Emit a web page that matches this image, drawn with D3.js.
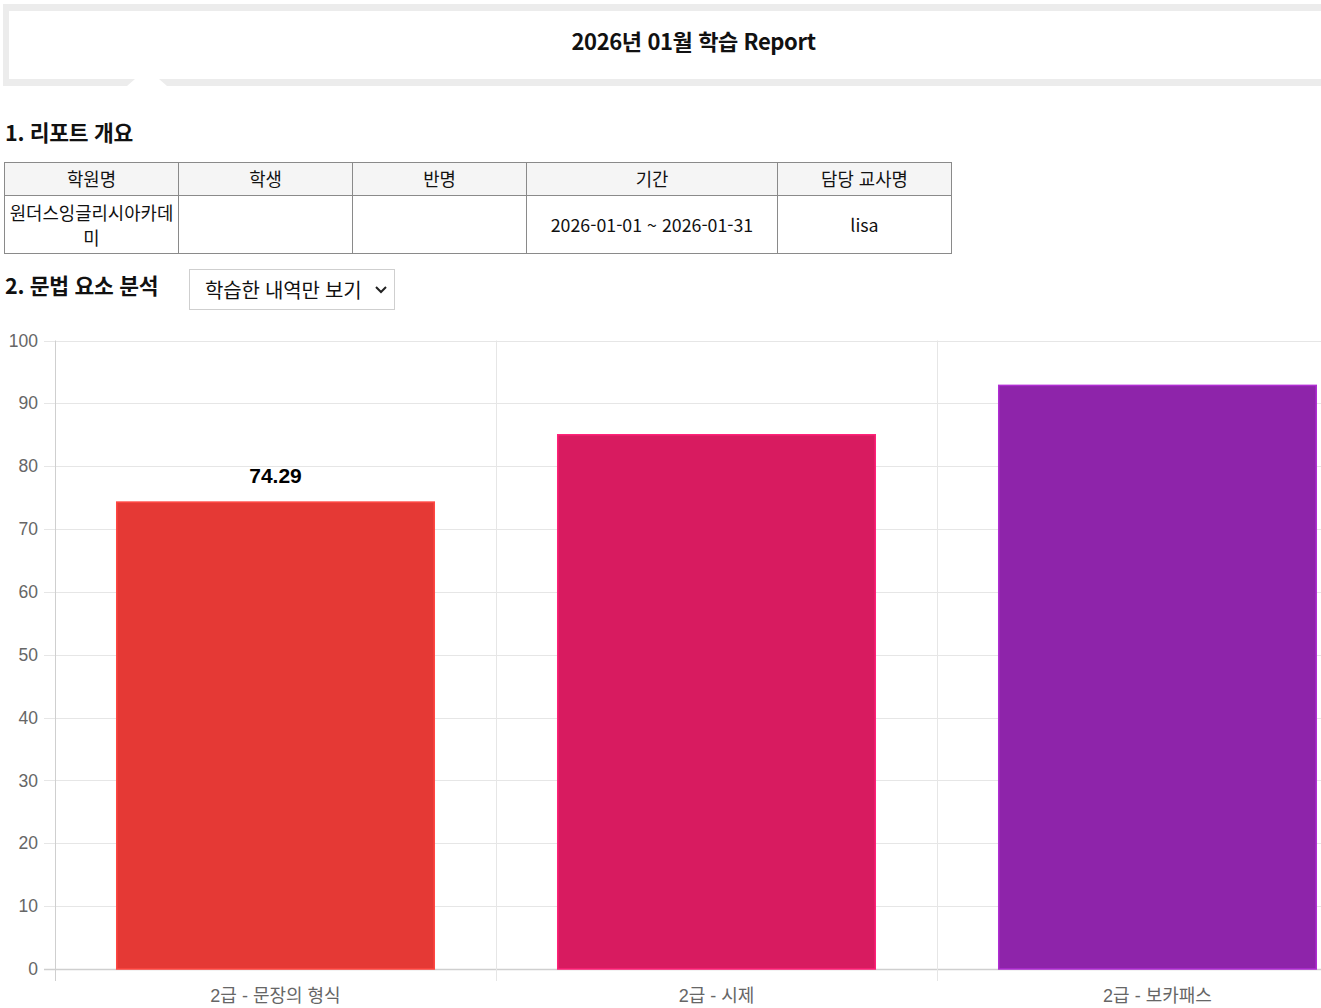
<!DOCTYPE html>
<html lang="ko">
<head>
<meta charset="utf-8">
<script src="https://cdn.jsdelivr.net/npm/d3@7"></script>
<style>
  html, body { margin: 0; padding: 0; background: #fff; overflow: hidden; }
  body { width: 1380px; height: 1008px; position: relative; font-family: "Noto Sans CJK KR", "Noto Sans", sans-serif; color: #111; }
  .hdr { position: absolute; left: 3px; top: 4px; width: 1375px; height: 82px; box-sizing: border-box;
         border: 7px solid #ececec; border-width: 7px 0 7px 6px; background: #fff; }
  .hdr .notch { position: absolute; left: 118px; top: 68px; width: 40px; height: 7px; background: #fff;
                clip-path: polygon(0 100%, 20% 0, 80% 0, 100% 100%); }
  .hdr .ttl { position: absolute; left: 0; right: 0; top: 13px; text-align: center; font-size: 22px; font-weight: 700; letter-spacing: -0.4px; }
  h3 { position: absolute; margin: 0; font-size: 21.5px; font-weight: 700; left: 5px; letter-spacing: -0.3px; }
  table { position: absolute; left: 4px; top: 162px; border-collapse: collapse; font-size: 17.8px; }
  th, td { border: 1px solid #8a8a8a; text-align: center; padding: 0 3px; box-sizing: border-box; font-weight: 400; }
  th { background: #f5f5f5; height: 33px; line-height: 28px; padding-bottom: 3px; }
  td { height: 58px; line-height: 25px; }
  .sel { position: absolute; left: 189px; top: 269px; width: 206px; height: 41px; box-sizing: border-box;
         border: 1px solid #cfcfcf; font-size: 20px; padding: 5px 0 0 15px; letter-spacing: -0.2px; }
  .sel svg { position: absolute; right: 7px; top: 16px; }
  #chart { position: absolute; left: 0; top: 0; }
</style>
</head>
<body>
<div class="hdr"><div class="ttl">2026년 01월 학습 Report</div><div class="notch"></div></div>
<h3 style="top:116px">1. 리포트 개요</h3>
<table>
  <tr><th style="width:174px">학원명</th><th style="width:174px">학생</th><th style="width:174px">반명</th><th style="width:251px">기간</th><th style="width:174px">담당 교사명</th></tr>
  <tr><td>원더스잉글리시아카데미</td><td></td><td></td><td>2026-01-01 ~ 2026-01-31</td><td>lisa</td></tr>
</table>
<h3 style="top:269px">2. 문법 요소 분석</h3>
<div class="sel">학습한 내역만 보기<svg width="12" height="8" viewBox="0 0 12 8"><path d="M1 1 L6 6 L11 1" fill="none" stroke="#222" stroke-width="2"/></svg></div>
<svg id="chart" width="1380" height="1008"></svg>
<script>
// ---- data ----
const categories = ["2급 - 문장의 형식", "2급 - 시제", "2급 - 보카패스"];
const scores = [74.29, 85.00, 92.86];
const valueLabels = ["74.29", "", ""];
const barColors = ["#E53935", "#D81B60", "#8E24AA"];
const yTicks = [0, 10, 20, 30, 40, 50, 60, 70, 80, 90, 100];

// ---- layout ----
const plotL = 55, plotR = 1378, plotT = 340.5, plotB = 969;
const svg = d3.select("#chart");
const x = d3.scaleBand().domain(categories).range([plotL, plotR]).padding(0);
const y = d3.scaleLinear().domain([0, 100]).range([plotB, plotT]);
const barW = x.bandwidth() * 0.72;

// horizontal grid
svg.append("g").selectAll("line").data(yTicks).join("line")
  .attr("x1", 44).attr("x2", plotR)
  .attr("y1", d => Math.round(y(d)) + 0.5).attr("y2", d => Math.round(y(d)) + 0.5)
  .attr("stroke", d => d === 0 ? "#cfcfcf" : "#e6e6e6").attr("stroke-width", d => d === 0 ? 1.5 : 1);

// vertical category grid
const bounds = categories.map(c => x(c)).concat([plotR]);
svg.append("g").selectAll("line").data(bounds).join("line")
  .attr("x1", d => Math.round(d) + 0.5).attr("x2", d => Math.round(d) + 0.5)
  .attr("y1", plotT).attr("y2", 981)
  .attr("stroke", (d, i) => i === 0 ? "#cfcfcf" : "#e6e6e6");

// y axis labels
const yAxis = d3.axisLeft(y).tickValues(yTicks).tickSize(0).tickPadding(17);
const ya = svg.append("g").attr("transform", `translate(${plotL},0)`).call(yAxis);
ya.select(".domain").remove();
ya.selectAll("text").attr("fill", "#666").attr("font-size", 17.5)
  .attr("font-family", "'Liberation Sans', Arial, sans-serif");

// x axis labels
const xAxis = d3.axisBottom(x).tickSize(0).tickPadding(20);
const xa = svg.append("g").attr("transform", `translate(0,${plotB})`).call(xAxis);
xa.select(".domain").remove();
xa.selectAll("text").attr("fill", "#666").attr("font-size", 18)
  .attr("font-family", "'Liberation Sans', 'Noto Sans CJK KR', sans-serif");

// bars
svg.append("g").selectAll("rect").data(categories).join("rect")
  .attr("x", c => x(c) + (x.bandwidth() - barW) / 2)
  .attr("width", barW)
  .attr("y", (c, i) => y(scores[i]))
  .attr("height", (c, i) => y(0) - y(scores[i]))
  .attr("fill", (c, i) => barColors[i])
  .attr("stroke", (c, i) => d3.color(barColors[i]).brighter(0.6))
  .attr("stroke-width", 1.5);

// value labels
svg.append("g").selectAll("text").data(categories).join("text")
  .attr("x", c => x(c) + x.bandwidth() / 2)
  .attr("y", (c, i) => y(scores[i]) - 19)
  .attr("text-anchor", "middle")
  .attr("font-family", "'Liberation Sans', Arial, sans-serif")
  .attr("font-weight", 700).attr("font-size", 21).attr("fill", "#000")
  .text((c, i) => valueLabels[i]);
</script>
</body>
</html>
